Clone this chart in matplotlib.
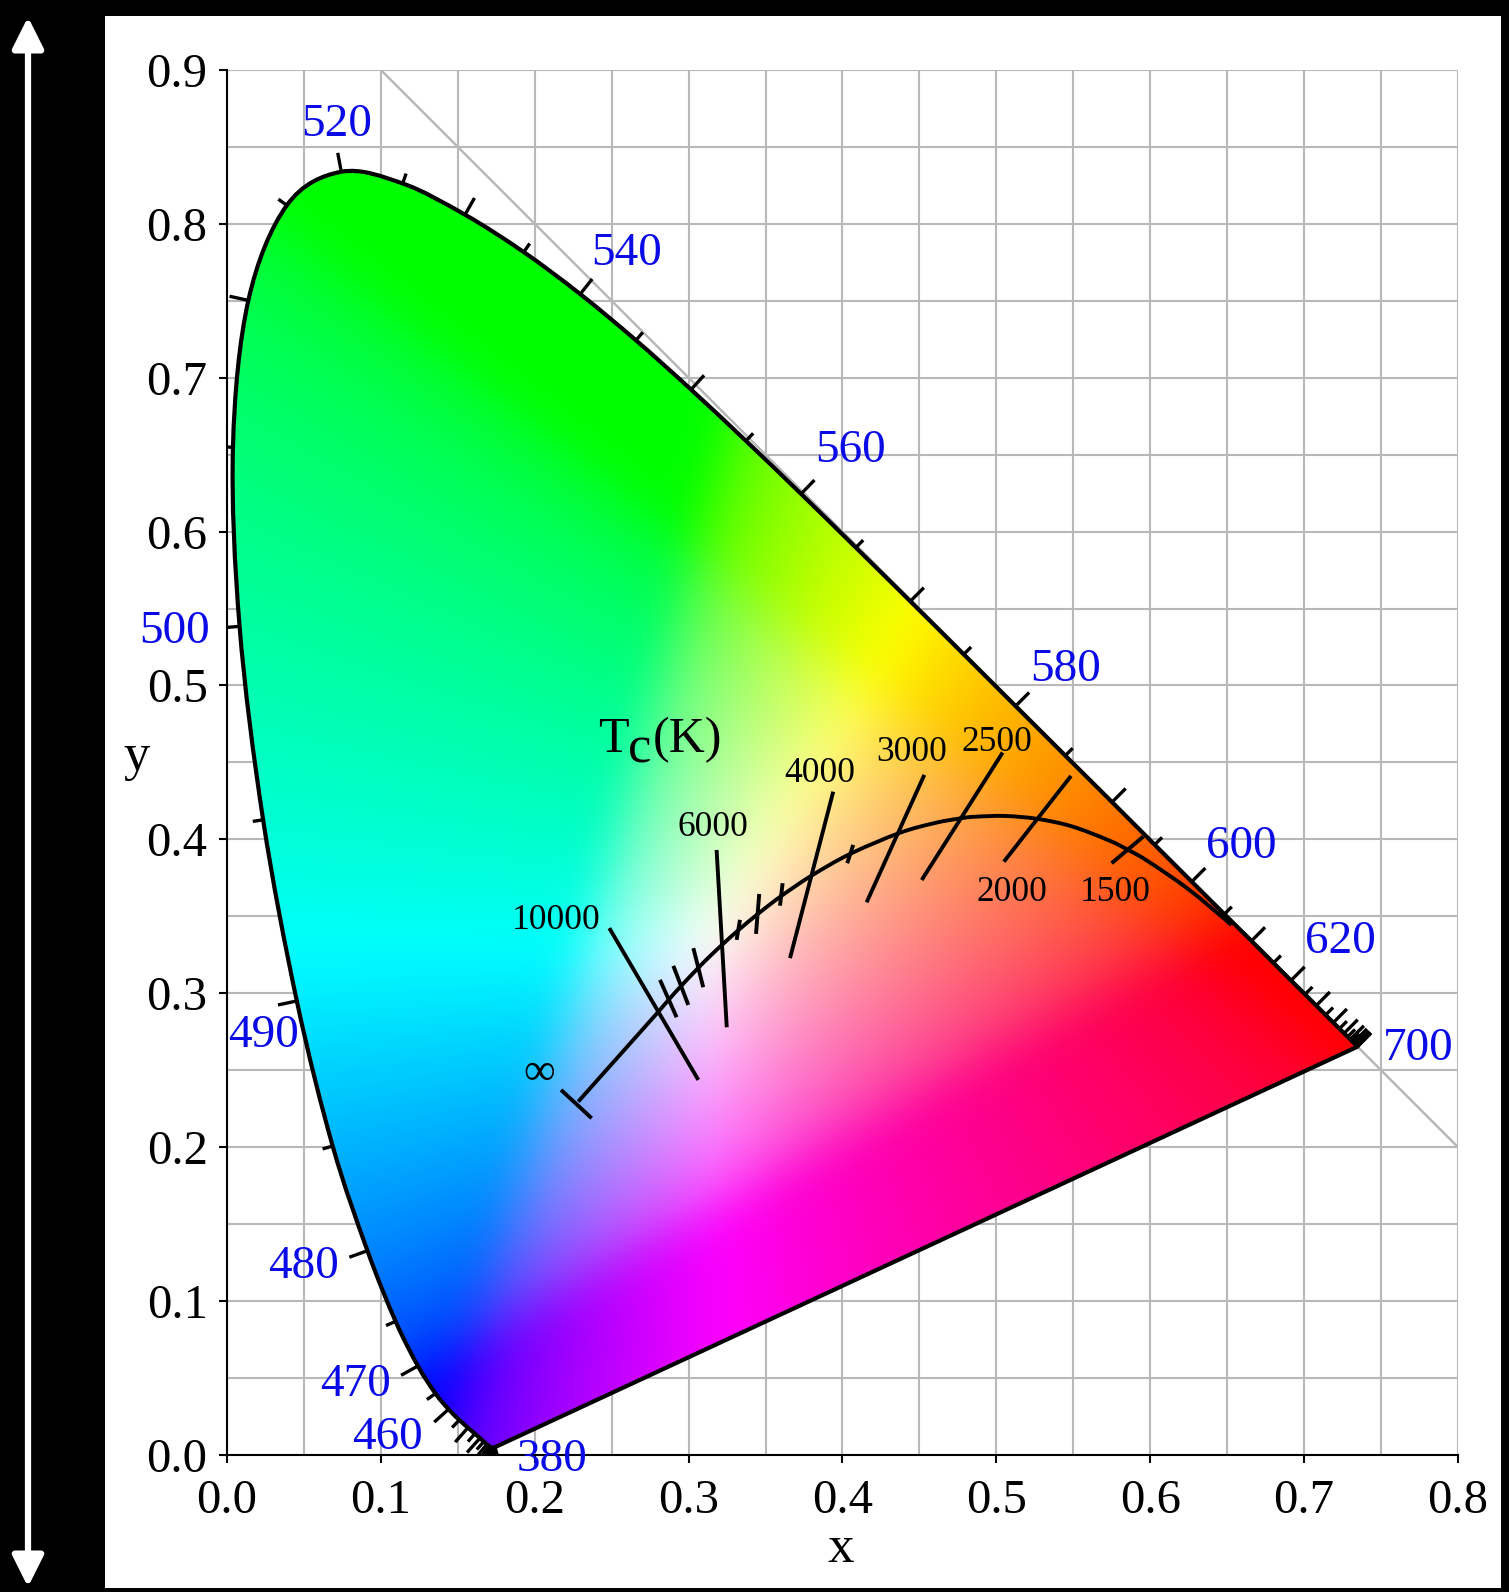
import numpy as np
import matplotlib
matplotlib.use('Agg')
from matplotlib import pyplot as plt
from matplotlib.patches import PathPatch, Rectangle, FancyArrowPatch
from matplotlib.path import Path

plt.rcParams['font.family'] = ['Liberation Serif', 'DejaVu Serif']

"""
Data : CIE 1931 spectral locus (5 nm), Planckian locus, isotherms
"""
wavelength = [380, 385, 390, 395, 400, 405, 410, 415, 420, 425, 430, 435, 440,
              445, 450, 455, 460, 465, 470, 475, 480, 485, 490, 495, 500, 505,
              510, 515, 520, 525, 530, 535, 540, 545, 550, 555, 560, 565, 570,
              575, 580, 585, 590, 595, 600, 605, 610, 615, 620, 625, 630, 635,
              640, 645, 650, 655, 660, 665, 670, 675, 680, 685, 690, 695, 700]
locus_x = [0.1741, 0.1740, 0.1738, 0.1736, 0.1733, 0.1730, 0.1726, 0.1721, 0.1714,
           0.1703, 0.1689, 0.1669, 0.1644, 0.1611, 0.1566, 0.1510, 0.1440, 0.1355,
           0.1241, 0.1096, 0.0913, 0.0687, 0.0454, 0.0235, 0.0082, 0.0039, 0.0139,
           0.0389, 0.0743, 0.1142, 0.1547, 0.1929, 0.2296, 0.2658, 0.3016, 0.3373,
           0.3731, 0.4087, 0.4441, 0.4788, 0.5125, 0.5448, 0.5752, 0.6029, 0.6270,
           0.6482, 0.6658, 0.6801, 0.6915, 0.7006, 0.7079, 0.7140, 0.7190, 0.7230,
           0.7260, 0.7283, 0.7300, 0.7311, 0.7320, 0.7327, 0.7334, 0.7340, 0.7344,
           0.7346, 0.7347]
locus_y = [0.0050, 0.0050, 0.0049, 0.0049, 0.0048, 0.0048, 0.0048, 0.0048, 0.0051,
           0.0058, 0.0069, 0.0086, 0.0109, 0.0138, 0.0177, 0.0227, 0.0297, 0.0399,
           0.0578, 0.0868, 0.1327, 0.2007, 0.2950, 0.4127, 0.5384, 0.6548, 0.7502,
           0.8120, 0.8338, 0.8262, 0.8059, 0.7816, 0.7543, 0.7243, 0.6923, 0.6589,
           0.6245, 0.5896, 0.5547, 0.5202, 0.4866, 0.4544, 0.4242, 0.3965, 0.3725,
           0.3514, 0.3340, 0.3197, 0.3083, 0.2993, 0.2920, 0.2859, 0.2809, 0.2770,
           0.2740, 0.2717, 0.2700, 0.2689, 0.2680, 0.2673, 0.2666, 0.2660, 0.2656,
           0.2654, 0.2653]

wl_labels = [380, 460, 470, 480, 490, 500, 520, 540, 560, 580, 600, 620, 700]
wl_lx = [0.211, 0.104, 0.0835, 0.0496, 0.0237, -0.034, 0.0715, 0.2600, 0.405, 0.545, 0.6594, 0.7233, 0.7742]
wl_ly = [0.000, 0.0141, 0.0487, 0.1256, 0.2756, 0.538, 0.8675, 0.7841, 0.6555, 0.5134, 0.3985, 0.3368, 0.2675]

planck_x = [0.6528, 0.6251, 0.5985, 0.5857, 0.5732, 0.5492, 0.5267, 0.5056, 0.4862,
            0.4770, 0.4599, 0.4369, 0.4053, 0.3805, 0.3608, 0.3451, 0.3325, 0.3221,
            0.3135, 0.3064, 0.2952, 0.2869, 0.2807, 0.2720, 0.2637, 0.2554, 0.2420, 0.2283]
planck_y = [0.3444, 0.3674, 0.3858, 0.3931, 0.3993, 0.4084, 0.4133, 0.4152, 0.4147,
            0.4137, 0.4106, 0.4041, 0.3907, 0.3768, 0.3636, 0.3516, 0.3411, 0.3318,
            0.3237, 0.3166, 0.3048, 0.2956, 0.2884, 0.2786, 0.2693, 0.2600, 0.2450, 0.2296]

# long isotherms (labelled)
iso_T = ['10000', '6000', '4000', '3000', '2500', '2000', '1500']
iso_x0 = [0.2485, 0.3182, 0.3940, 0.4532, 0.5041, 0.5485, 0.5955]
iso_y0 = [0.3423, 0.3931, 0.4310, 0.4419, 0.4564, 0.4412, 0.4018]
iso_x1 = [0.3063, 0.3248, 0.3659, 0.4157, 0.4515, 0.5049, 0.5749]
iso_y1 = [0.2437, 0.2779, 0.3228, 0.3591, 0.3736, 0.3855, 0.3845]
iso_lx = [0.2143, 0.316, 0.3854, 0.445, 0.5002, 0.51, 0.5771]
iso_ly = [0.3498, 0.4105, 0.4451, 0.4592, 0.4657, 0.3682, 0.3682]

# short ticks 9000, 8000, 7000, 5500, 5000, 4500, 3500
tick_x0 = [0.2814, 0.2901, 0.3031, 0.3334, 0.3459, 0.3611, 0.4070]
tick_y0 = [0.3087, 0.3178, 0.3293, 0.3477, 0.3645, 0.3715, 0.3964]
tick_x1 = [0.2922, 0.2998, 0.3095, 0.3312, 0.3438, 0.3594, 0.4031]
tick_y1 = [0.2844, 0.2924, 0.3039, 0.3347, 0.3386, 0.3569, 0.3845]

# end bar at T = infinity
inf_bar_x = [0.2171, 0.2370]
inf_bar_y = [0.2372, 0.2188]


def smooth(xs, ys):
    # Catmull-Rom through the points, as cubic bezier segments
    P = np.column_stack([xs, ys])
    n = len(P)
    verts = [P[0]]
    codes = [Path.MOVETO]
    for i in range(n - 1):
        p0, p1, p2, p3 = P[max(i - 1, 0)], P[i], P[i + 1], P[min(i + 2, n - 1)]
        verts += [p1 + (p2 - p0) / 6, p2 - (p3 - p1) / 6, p2]
        codes += [Path.CURVE4] * 3
    return verts, codes


"""
Figure
"""
fig = plt.figure(figsize=(15.09, 15.92), dpi=100, facecolor='black')
fig.patches.append(Rectangle((0.0696, 0.0025), 0.9251, 0.9874, transform=fig.transFigure,
                             facecolor='white', edgecolor='none', zorder=-1))
arrow = FancyArrowPatch((28/1509, 5/1592), (28/1509, 1575/1592), transform=fig.transFigure,
                        arrowstyle='<|-|>,head_length=1.9,head_width=0.95', mutation_scale=10,
                        color='white', lw=4.5, shrinkA=0, shrinkB=0)
fig.patches.append(arrow)

ax = fig.add_axes([0.1504, 0.0861, 0.8158, 0.8700])
ax.set_facecolor('white')

# colour fill of the horseshoe
gx, gy = np.meshgrid(np.linspace(-0.05, 0.8, 851), np.linspace(0.001, 0.9, 900))
XYZ = np.stack([gx/gy, np.ones_like(gx), (1 - gx - gy)/gy])
M = np.array([[3.2406, -1.5372, -0.4986],
              [-0.9689, 1.8758, 0.0415],
              [0.0557, -0.2040, 1.0570]])
rgb = np.einsum('ij,jkl->kli', M, XYZ)
rgb = np.clip(rgb, 0, None)
rgb = rgb / rgb.max(axis=2, keepdims=True)
rgb = np.where(rgb <= 0.0031308, 12.92*rgb, 1.055*np.clip(rgb, 0, None)**(1/2.4) - 0.055)
rgb = np.clip(rgb, 0, 1)
# soften the clipping ridges
sig = 14
k = np.exp(-0.5*(np.arange(-3*sig, 3*sig + 1)/sig)**2)
k /= k.sum()
pad = np.pad(rgb, ((3*sig, 3*sig), (3*sig, 3*sig), (0, 0)), mode='edge')
pad = np.apply_along_axis(lambda v: np.convolve(v, k, mode='valid'), 0, pad)
pad = np.apply_along_axis(lambda v: np.convolve(v, k, mode='valid'), 1, pad)
rgb = np.clip(pad, 0, 1)
im = ax.imshow(rgb, origin='lower', extent=(-0.05, 0.8, 0.001, 0.9),
               interpolation='bilinear', aspect='auto', zorder=1)

verts, codes = smooth(locus_x, locus_y)
verts += [verts[0], verts[0]]
codes += [Path.LINETO, Path.CLOSEPOLY]
horseshoe = PathPatch(Path(verts, codes), facecolor='none', edgecolor='black',
                      lw=3.0, zorder=3, joinstyle='round')
ax.add_patch(horseshoe)
im.set_clip_path(horseshoe)

# wavelength ticks (perpendicular, outward)
lx = np.array(locus_x)
ly = np.array(locus_y)
tx = np.gradient(lx)
ty = np.gradient(ly)
nn = np.hypot(tx, ty)
nx, ny = -ty/nn, tx/nn
for w, x0, y0, ux, uy in zip(wavelength, lx, ly, nx, ny):
    L = 0.0125 if w % 10 == 0 else 0.0068
    ax.plot([x0, x0 + L*ux], [y0, y0 + L*uy], color='black', lw=2.4,
            solid_capstyle='butt', zorder=4)

for w, x, y in zip(wl_labels, wl_lx, wl_ly):
    ax.text(x, y, str(w), color='#0a0ae6', fontsize=34, ha='center',
            va='center_baseline', zorder=5, clip_on=False)

# diagonal x + y = 1
ax.plot([0.1, 0.8], [0.9, 0.2], color='#b8b8b8', lw=1.8, zorder=0.6)

# Planckian locus
pv, pc = smooth(planck_x, planck_y)
ax.add_patch(PathPatch(Path(pv, pc), facecolor='none', edgecolor='black', lw=2.8, zorder=4))
for a, b, c, d in zip(iso_x0, iso_y0, iso_x1, iso_y1):
    ax.plot([a, c], [b, d], color='black', lw=2.8, zorder=4, solid_capstyle='butt')
for a, b, c, d in zip(tick_x0, tick_y0, tick_x1, tick_y1):
    ax.plot([a, c], [b, d], color='black', lw=2.8, zorder=4, solid_capstyle='butt')
ax.plot(inf_bar_x, inf_bar_y, color='black', lw=2.8, zorder=4, solid_capstyle='butt')
for t, x, y in zip(iso_T, iso_lx, iso_ly):
    ax.text(x, y, t, fontsize=25.5, ha='center', va='center_baseline', zorder=5)
ax.text(0.203, 0.2484, '\u221e', fontsize=32, ha='center', va='center', zorder=5)
ax.text(0.2411, 0.4568, 'T', fontsize=36, ha='left', va='baseline', zorder=5)
ax.text(0.2606, 0.4497, 'c', fontsize=38, ha='left', va='baseline', zorder=5)
ax.text(0.2768, 0.4568, '(K)', fontsize=36, ha='left', va='baseline', zorder=5)

# axes, grid
ax.set_xlim(0, 0.8)
ax.set_ylim(0, 0.9)
ax.set_xticks(np.arange(0, 0.81, 0.1))
ax.set_yticks(np.arange(0, 0.91, 0.1))
ax.set_xticks(np.arange(0.05, 0.8, 0.1), minor=True)
ax.set_yticks(np.arange(0.05, 0.9, 0.1), minor=True)
ax.set_xticklabels(['%.1f' % v for v in np.arange(0, 0.81, 0.1)])
ax.set_yticklabels(['%.1f' % v for v in np.arange(0, 0.91, 0.1)])
ax.grid(True, which='both', color='#b8b8b8', lw=1.5)
ax.set_axisbelow(True)
ax.tick_params(which='major', direction='out', length=6, width=1.5, labelsize=35)
ax.tick_params(axis='x', which='major', pad=11)
ax.tick_params(axis='y', which='major', pad=8)
ax.tick_params(which='minor', length=0)
for s in ['top', 'right']:
    ax.spines[s].set_visible(False)
for s in ['left', 'bottom']:
    ax.spines[s].set_linewidth(1.5)

ax.set_xlabel('x', fontsize=38)
ax.xaxis.set_label_coords(0.4988, -0.064)
ax.xaxis.label.set_va('center_baseline')
ax.set_ylabel('y', fontsize=38, rotation=0)
ax.yaxis.set_label_coords(-0.0731, 0.508)
ax.yaxis.label.set_va('center_baseline')
ax.yaxis.label.set_ha('center')

fig.savefig('out.png', dpi=100, facecolor='black')
